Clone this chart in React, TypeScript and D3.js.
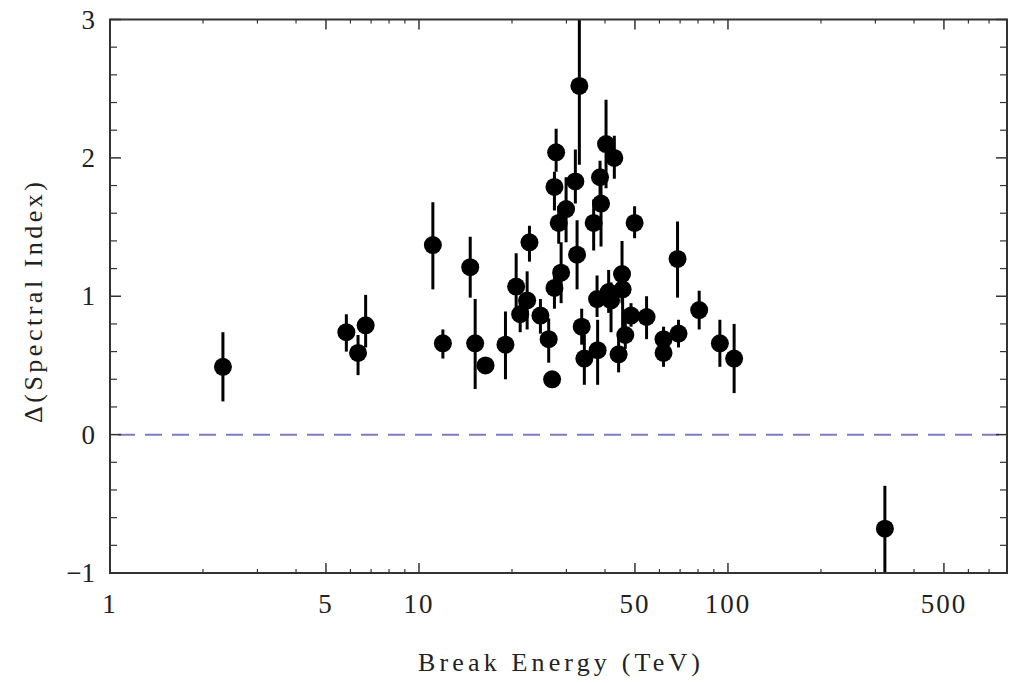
import React from "react";
import * as d3 from "d3";

const energy = [2.32, 5.82, 6.35, 6.72, 11.09, 11.95, 14.65, 15.2, 16.42, 19.05, 20.63, 21.26, 22.39, 22.78, 24.72, 26.29, 26.97, 27.44, 27.79, 27.44, 28.33, 28.84, 29.93, 32.07, 32.48, 33.04, 33.62, 34.29, 36.76, 37.7, 37.86, 38.55, 38.83, 40.31, 41.1, 41.84, 42.88, 44.27, 45.41, 45.61, 46.53, 48.56, 49.87, 54.52, 61.87, 61.87, 68.68, 69.18, 80.7, 94.15, 104.7, 322];
const delta = [0.49, 0.74, 0.59, 0.79, 1.37, 0.66, 1.21, 0.66, 0.5, 0.65, 1.07, 0.87, 0.97, 1.39, 0.86, 0.69, 0.4, 1.06, 2.04, 1.79, 1.53, 1.17, 1.63, 1.83, 1.3, 2.52, 0.78, 0.55, 1.53, 0.98, 0.61, 1.86, 1.67, 2.1, 1.03, 0.97, 2.0, 0.58, 1.16, 1.05, 0.72, 0.86, 1.53, 0.85, 0.69, 0.59, 1.27, 0.73, 0.9, 0.66, 0.55, -0.68];
const errLow = [0.24, 0.6, 0.43, 0.63, 1.05, 0.55, 0.99, 0.33, 0.5, 0.4, 0.92, 0.74, 0.76, 1.25, 0.73, 0.52, 0.4, 0.91, 1.9, 1.62, 1.38, 0.95, 1.39, 1.67, 1.05, 1.95, 0.65, 0.36, 1.33, 0.85, 0.36, 1.7, 1.36, 1.78, 0.88, 0.74, 1.85, 0.45, 0.95, 0.73, 0.62, 0.78, 1.42, 0.69, 0.6, 0.49, 0.99, 0.63, 0.76, 0.49, 0.3, -1.05];
const errHigh = [0.74, 0.87, 0.72, 1.01, 1.68, 0.76, 1.43, 0.98, 0.5, 0.89, 1.31, 0.98, 1.18, 1.51, 0.98, 0.84, 0.4, 1.2, 2.21, 1.9, 1.65, 1.39, 1.86, 2.06, 1.55, 3.3, 0.91, 0.72, 1.7, 1.15, 0.83, 1.98, 1.8, 2.42, 1.19, 1.1, 2.16, 0.7, 1.4, 1.15, 0.82, 0.95, 1.65, 1.0, 0.78, 0.69, 1.54, 0.83, 1.04, 0.83, 0.8, -0.37];

const xMajor = [1, 5, 10, 50, 100, 500];
const xMinor = [2, 3, 4, 6, 7, 8, 9, 20, 30, 40, 60, 70, 80, 90, 200, 300, 400, 600, 700];
const yMajor = [-1, 0, 1, 2, 3];
const yMinor = [-0.8, -0.6, -0.4, -0.2, 0.2, 0.4, 0.6, 0.8, 1.2, 1.4, 1.6, 1.8, 2.2, 2.4, 2.6, 2.8];
const yLabels = ["\u22121", "0", "1", "2", "3"];

export default function App() {
  const W = 1009, H = 683;
  const left = 110, right = 1007, top = 19.5, bottom = 573;
  const x = d3.scaleLog().domain([1, 800]).range([left, right]);
  const y = d3.scaleLinear().domain([-1, 3]).range([bottom, top]);
  const font = "'Liberation Serif', 'Times New Roman', Times, serif";
  const axisColor = "#333";
  const txt = { fontFamily: font, fill: "#222" } as React.CSSProperties;
  return (
    <svg width={W} height={H} style={{ position: "absolute", left: 0, top: 0, background: "#fff" }}>
      <defs>
        <clipPath id="plotclip">
          <rect x={left} y={top} width={right - left} height={bottom - top} />
        </clipPath>
      </defs>
      <line x1={left} x2={right} y1={y(0)} y2={y(0)} stroke="#7c7cc4" strokeWidth={2} strokeDasharray="17 10" strokeDashoffset={-8} />
      <g clipPath="url(#plotclip)">
        {energy.map((e, i) => (
          <line key={"e" + i} x1={x(e)} x2={x(e)} y1={y(errLow[i])} y2={y(errHigh[i])} stroke="#000" strokeWidth={3} />
        ))}
        {energy.map((e, i) => (
          <circle key={"c" + i} cx={x(e)} cy={y(delta[i])} r={9} fill="#000" />
        ))}
      </g>
      <rect x={left} y={top} width={right - left} height={bottom - top} fill="none" stroke={axisColor} strokeWidth={2} />
      {xMajor.map((v) => (
        <g key={"xm" + v}>
          <line x1={x(v)} x2={x(v)} y1={bottom} y2={bottom - 10} stroke={axisColor} strokeWidth={1.5} />
          <line x1={x(v)} x2={x(v)} y1={top} y2={top + 10} stroke={axisColor} strokeWidth={1.5} />
          <text x={x(v)} y={613} textAnchor="middle" style={{ ...txt, fontSize: "27px", letterSpacing: "2px" }}>{v}</text>
        </g>
      ))}
      {xMinor.map((v) => (
        <g key={"xn" + v}>
          <line x1={x(v)} x2={x(v)} y1={bottom} y2={bottom - 4} stroke={axisColor} strokeWidth={1.2} />
          <line x1={x(v)} x2={x(v)} y1={top} y2={top + 4} stroke={axisColor} strokeWidth={1.2} />
        </g>
      ))}
      {yMajor.map((v, i) => (
        <g key={"ym" + v}>
          <line x1={left} x2={left + 11} y1={y(v)} y2={y(v)} stroke={axisColor} strokeWidth={1.5} />
          <line x1={right} x2={right - 11} y1={y(v)} y2={y(v)} stroke={axisColor} strokeWidth={1.5} />
          <text x={95} y={y(v) + 9} textAnchor="end" style={{ ...txt, fontSize: "27px" }}>{yLabels[i]}</text>
        </g>
      ))}
      {yMinor.map((v) => (
        <g key={"yn" + v}>
          <line x1={left} x2={left + 7} y1={y(v)} y2={y(v)} stroke={axisColor} strokeWidth={1.2} />
          <line x1={right} x2={right - 7} y1={y(v)} y2={y(v)} stroke={axisColor} strokeWidth={1.2} />
        </g>
      ))}
      <text x={418} y={671} style={{ ...txt, fontSize: "26px" }} textLength={282} lengthAdjust="spacing">Break Energy  (TeV)</text>
      <text transform={`translate(42, 423) rotate(-90)`} style={{ ...txt, fontSize: "26px" }} textLength={241} lengthAdjust="spacing">Δ(Spectral Index)</text>
    </svg>
  );
}
